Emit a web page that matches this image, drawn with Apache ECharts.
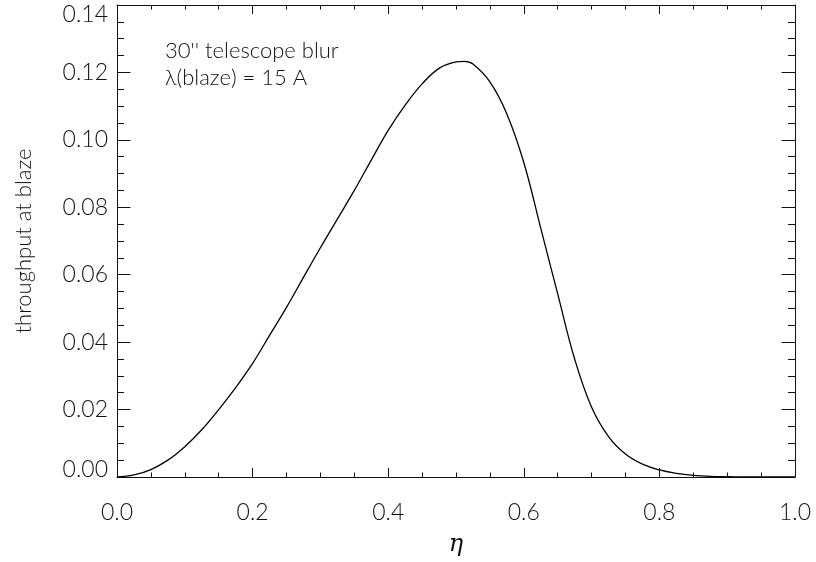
<!DOCTYPE html>
<html>
<head>
<meta charset="utf-8">
<script src="https://cdn.jsdelivr.net/npm/echarts@6/dist/echarts.min.js"></script>
<style>
  html, body { margin: 0; padding: 0; background: #fff; }
  #chart { width: 816px; height: 562px; }
</style>
</head>
<body>
<div id="chart"></div>
<script>
// eta values and throughput at blaze
var etaValues = [0, 0.025, 0.05, 0.075, 0.1, 0.125, 0.15, 0.175, 0.2, 0.225, 0.25, 0.275,
    0.3, 0.325, 0.35, 0.375, 0.4, 0.425, 0.45, 0.475, 0.5, 0.5125, 0.525, 0.55, 0.575,
    0.6, 0.625, 0.65, 0.675, 0.7, 0.725, 0.75, 0.775, 0.8, 0.825, 0.85, 0.875,
    0.9, 0.95, 1.0]
var throughputValues = [0, 0.0006, 0.0022, 0.0050, 0.0090, 0.0140, 0.0200, 0.0265, 0.0337, 0.0420, 0.0503, 0.0592,
    0.0680, 0.0765, 0.0850, 0.0940, 0.1028, 0.1103, 0.1166, 0.1212, 0.1231, 0.1233, 0.1225, 0.1172, 0.1077,
    0.0933, 0.0738, 0.0543, 0.0350, 0.0207, 0.0120, 0.0068, 0.0038, 0.0021, 0.0011, 0.0005, 0.0002,
    0.0001, 0, 0]
var xTicks = { min: 0, max: 1, interval: 0.2 }
var yTicks = { min: 0, max: 0.14, interval: 0.02 }
var annotationLines = ["30'' telescope blur", 'λ(blaze) = 15 A']

var FONT = 'Lato'
var INK = '#111'

var chart = echarts.init(document.getElementById('chart'), null, { renderer: 'canvas' })

function frameAxis(extra) {
    return Object.assign({
        type: 'value',
        axisLine: { show: true, onZero: false, lineStyle: { color: INK, width: 1 } },
        splitLine: { show: false },
        minorSplitLine: { show: false }
    }, extra)
}

var pairs = etaValues.map(function (x, i) { return [x, throughputValues[i]] })

chart.setOption({
    animation: false,
    backgroundColor: '#fff',
    grid: { left: 117, right: 21, top: 5, bottom: 80 },
    xAxis: [
        frameAxis({
            position: 'bottom',
            min: xTicks.min, max: xTicks.max, interval: xTicks.interval,
            axisTick: { show: true, inside: true, length: 9, lineStyle: { color: INK } },
            minorTick: { show: true, splitNumber: 4, length: 4.5, lineStyle: { color: INK } },
            axisLabel: {
                margin: 24, fontFamily: FONT, fontWeight: 300, fontSize: 23, color: INK,
                formatter: function (v) { return v.toFixed(1) }
            },
            name: 'η',
            nameLocation: 'middle',
            nameGap: 56,
            nameTextStyle: { fontFamily: 'DejaVu Serif', fontStyle: 'italic', fontSize: 24, color: INK }
        }),
        frameAxis({
            position: 'top',
            min: xTicks.min, max: xTicks.max, interval: xTicks.interval,
            axisTick: { show: true, inside: true, length: 9, lineStyle: { color: INK } },
            minorTick: { show: true, splitNumber: 4, length: 4.5, lineStyle: { color: INK } },
            axisLabel: { show: false }
        })
    ],
    yAxis: [
        frameAxis({
            position: 'left',
            min: yTicks.min, max: yTicks.max, interval: yTicks.interval,
            axisTick: { show: true, inside: true, length: 13.5, lineStyle: { color: INK } },
            minorTick: { show: true, splitNumber: 4, length: 7, lineStyle: { color: INK } },
            axisLabel: {
                margin: 9, fontFamily: FONT, fontWeight: 300, fontSize: 23, color: INK,
                formatter: function (v) {
                    var s = v.toFixed(2)
                    // IDL nudges the end labels inwards
                    if (Math.abs(v - yTicks.max) < 1e-9) return '{top|' + s + '}'
                    if (Math.abs(v - yTicks.min) < 1e-9) return '{bot|' + s + '}'
                    return s
                },
                rich: {
                    top: { fontFamily: FONT, fontWeight: 300, fontSize: 23, color: INK, padding: [20, 0, 0, 0] },
                    bot: { fontFamily: FONT, fontWeight: 300, fontSize: 23, color: INK, padding: [0, 0, 14, 0] }
                }
            },
            name: 'throughput at blaze',
            nameLocation: 'middle',
            nameGap: 82,
            nameTextStyle: { fontFamily: FONT, fontWeight: 300, fontSize: 22, color: INK }
        }),
        frameAxis({
            position: 'right',
            min: yTicks.min, max: yTicks.max, interval: yTicks.interval,
            axisTick: { show: true, inside: true, length: 13.5, lineStyle: { color: INK } },
            minorTick: { show: true, splitNumber: 4, length: 7, lineStyle: { color: INK } },
            axisLabel: { show: false }
        })
    ],
    graphic: [
        {
            type: 'text', left: 165, top: 40,
            style: { text: annotationLines[0], font: '300 22px ' + FONT, fill: INK }
        },
        {
            type: 'text', left: 165, top: 67,
            style: { text: annotationLines[1], font: '300 22px ' + FONT, fill: INK }
        }
    ],
    series: [
        {
            type: 'line',
            data: pairs,
            smooth: 0.4,
            showSymbol: false,
            lineStyle: { color: '#000', width: 1.3 },
            xAxisIndex: 0,
            yAxisIndex: 0
        }
    ]
})
</script>
</body>
</html>
